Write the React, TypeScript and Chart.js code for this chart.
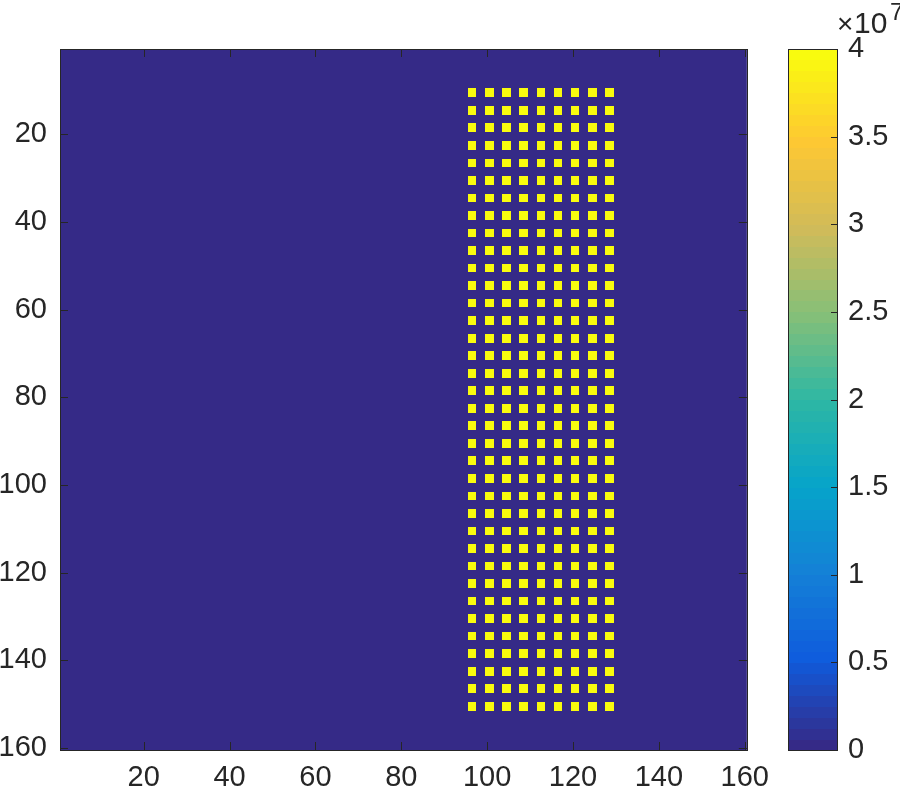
import React, { useEffect, useRef } from "react";
import { Chart, registerables } from "chart.js";

Chart.register(...registerables);

// ---- data ----
const gridSize = 160;
const xTicks = [20, 40, 60, 80, 100, 120, 140, 160];
const yTicks = [20, 40, 60, 80, 100, 120, 140, 160];
const cbTicks = [0, 0.5e7, 1e7, 1.5e7, 2e7, 2.5e7, 3e7, 3.5e7, 4e7];
const cbMin = 0;
const cbMax = 4e7;
const baseValue = 0;
const dotValue = 4e7;
const dotCols = [96, 100, 104, 108, 112, 116, 120, 124, 128];
const dotRows = [
  10, 14, 18, 22, 26, 30, 34, 38, 42, 46, 50, 54, 58, 62, 66, 70, 74, 78,
  82, 86, 90, 94, 98, 102, 106, 110, 114, 118, 122, 126, 130, 134, 138, 142,
  146, 150,
];
const dotSize = 2;

// ---- style ----
const FONT = "'Liberation Sans', Arial, Helvetica, sans-serif";
const INK = "#262626";
const parulaStops = [
  [53, 42, 135],
  [15, 92, 221],
  [20, 129, 214],
  [6, 164, 202],
  [46, 183, 164],
  [135, 191, 119],
  [209, 187, 89],
  [254, 200, 50],
  [249, 251, 14],
];
const LEVELS = 64;

function parulaAt(t: number): string {
  const n = parulaStops.length - 1;
  const p = Math.max(0, Math.min(1, t)) * n;
  const i = Math.min(n - 1, Math.floor(p));
  const f = p - i;
  const a = parulaStops[i];
  const b = parulaStops[i + 1];
  const c = a.map((v, k) => Math.round(v + (b[k] - v) * f));
  return `rgb(${c[0]},${c[1]},${c[2]})`;
}
function colorFor(v: number): string {
  let idx = Math.floor(((v - cbMin) / (cbMax - cbMin)) * LEVELS);
  idx = Math.max(0, Math.min(LEVELS - 1, idx));
  return parulaAt(idx / (LEVELS - 1));
}

const cells = dotRows.flatMap((r) =>
  dotCols.map((c) => ({ x: c + dotSize / 2 - 0.5, y: r + dotSize / 2 - 0.5, v: dotValue }))
);

const heatPlugin = {
  id: "heat",
  beforeDatasetsDraw(chart: any) {
    const { ctx, chartArea: a, scales } = chart;
    const xs = scales.x;
    const ys = scales.y;
    ctx.save();
    ctx.fillStyle = colorFor(baseValue);
    ctx.fillRect(a.left, a.top, a.right - a.left, a.bottom - a.top);
    const ds = chart.data.datasets[0].data as any[];
    for (const d of ds) {
      const x0 = Math.round(xs.getPixelForValue(d.x - dotSize / 2));
      const x1 = Math.round(xs.getPixelForValue(d.x + dotSize / 2));
      const y0 = Math.round(ys.getPixelForValue(d.y - dotSize / 2));
      const y1 = Math.round(ys.getPixelForValue(d.y + dotSize / 2));
      ctx.fillStyle = colorFor(d.v);
      ctx.fillRect(Math.min(x0, x1), Math.min(y0, y1), Math.abs(x1 - x0), Math.abs(y1 - y0));
    }
    ctx.restore();
  },
  afterDraw(chart: any) {
    const { ctx, chartArea: a, scales } = chart;
    const tl = 8;
    ctx.save();
    ctx.strokeStyle = INK;
    ctx.lineWidth = 1;
    ctx.beginPath();
    for (const t of xTicks) {
      const px = Math.round(scales.x.getPixelForValue(t)) + 0.5;
      ctx.moveTo(px, a.bottom);
      ctx.lineTo(px, a.bottom - tl);
      ctx.moveTo(px, a.top);
      ctx.lineTo(px, a.top + tl);
    }
    for (const t of yTicks) {
      const py = Math.round(scales.y.getPixelForValue(t)) + 0.5;
      ctx.moveTo(a.left, py);
      ctx.lineTo(a.left + tl, py);
      ctx.moveTo(a.right, py);
      ctx.lineTo(a.right - tl, py);
    }
    ctx.stroke();
    ctx.strokeRect(Math.round(a.left) + 0.5, Math.round(a.top) + 0.5, Math.round(a.right - a.left), Math.round(a.bottom - a.top));
    ctx.restore();
  },
};

const colorbarPlugin = {
  id: "colorbar",
  beforeDatasetsDraw(chart: any) {
    const { ctx, chartArea: a, scales } = chart;
    const ys = scales.y;
    ctx.save();
    for (let i = 0; i < LEVELS; i++) {
      const v0 = cbMin + ((cbMax - cbMin) * i) / LEVELS;
      const v1 = cbMin + ((cbMax - cbMin) * (i + 1)) / LEVELS;
      const p0 = ys.getPixelForValue(v0);
      const p1 = ys.getPixelForValue(v1);
      ctx.fillStyle = parulaAt(i / (LEVELS - 1));
      ctx.fillRect(a.left, Math.floor(p1), a.right - a.left, Math.ceil(p0) - Math.floor(p1));
    }
    ctx.restore();
  },
  afterDraw(chart: any) {
    const { ctx, chartArea: a, scales } = chart;
    ctx.save();
    ctx.strokeStyle = INK;
    ctx.lineWidth = 1;
    ctx.beginPath();
    for (const t of cbTicks) {
      const py = Math.round(scales.y.getPixelForValue(t)) + 0.5;
      ctx.moveTo(a.right, py);
      ctx.lineTo(a.right - 6, py);
    }
    ctx.stroke();
    ctx.strokeRect(Math.round(a.left) + 0.5, Math.round(a.top) + 0.5, Math.round(a.right - a.left), Math.round(a.bottom - a.top));
    // exponent label
    ctx.fillStyle = INK;
    ctx.textBaseline = "alphabetic";
    ctx.textAlign = "left";
    const x0 = a.right;
    ctx.font = `28px ${FONT}`;
    ctx.fillText("\u00d7", x0, 33);
    ctx.font = `30px ${FONT}`;
    ctx.fillText("10", x0 + 17, 33);
    ctx.font = `24px ${FONT}`;
    ctx.fillText("7", x0 + 53, 20);
    ctx.restore();
  },
};

export default function App() {
  const mainRef = useRef<HTMLCanvasElement>(null);
  const cbRef = useRef<HTMLCanvasElement>(null);

  useEffect(() => {
    const tickFont = { family: FONT, size: 29 };
    const main = new Chart(mainRef.current!, {
      type: "scatter",
      data: {
        datasets: [
          {
            data: cells as any,
            pointRadius: 0,
            pointHoverRadius: 0,
          },
        ],
      },
      options: {
        animation: false,
        responsive: false,
        events: [],
        layout: { padding: { top: 49, right: 33, left: 0, bottom: 0 } },
        plugins: { legend: { display: false }, tooltip: { enabled: false } },
        scales: {
          x: {
            type: "linear",
            min: 0.5,
            max: gridSize + 0.5,
            afterBuildTicks: (s: any) => {
              s.ticks = xTicks.map((v) => ({ value: v }));
            },
            afterFit: (s: any) => {
              s.height = 50;
            },
            grid: { display: false, drawTicks: false },
            border: { display: false },
            ticks: { font: tickFont, color: INK, padding: 11, maxRotation: 0, autoSkip: false },
          },
          y: {
            type: "linear",
            reverse: true,
            min: 0.5,
            max: gridSize + 0.5,
            afterBuildTicks: (s: any) => {
              s.ticks = yTicks.map((v) => ({ value: v }));
            },
            afterFit: (s: any) => {
              s.width = 60;
            },
            grid: { display: false, drawTicks: false },
            border: { display: false },
            ticks: { font: tickFont, color: INK, padding: 13, autoSkip: false },
          },
        },
      },
      plugins: [heatPlugin],
    });

    const cb = new Chart(cbRef.current!, {
      type: "scatter",
      data: { datasets: [{ data: [], pointRadius: 0 }] },
      options: {
        animation: false,
        responsive: false,
        events: [],
        layout: { padding: { top: 49, right: 0, left: 28, bottom: 50 } },
        plugins: { legend: { display: false }, tooltip: { enabled: false } },
        scales: {
          x: { type: "linear", display: false, min: 0, max: 1 },
          y: {
            type: "linear",
            position: "right",
            min: cbMin,
            max: cbMax,
            afterBuildTicks: (s: any) => {
              s.ticks = cbTicks.map((v) => ({ value: v }));
            },
            afterFit: (s: any) => {
              s.width = 63;
            },
            grid: { display: false, drawTicks: false },
            border: { display: false },
            ticks: {
              font: tickFont,
              color: INK,
              padding: 11,
              autoSkip: false,
              callback: (v: any) => String(Number(v) / 1e7),
            },
          },
        },
      },
      plugins: [colorbarPlugin],
    });

    return () => {
      main.destroy();
      cb.destroy();
    };
  }, []);

  return (
    <div style={{ position: "absolute", left: 0, top: 0, width: 900, height: 800, background: "#fff" }}>
      <canvas ref={mainRef} width={780} height={800} style={{ position: "absolute", left: 0, top: 0 }} />
      <canvas ref={cbRef} width={140} height={800} style={{ position: "absolute", left: 760, top: 0 }} />
    </div>
  );
}
